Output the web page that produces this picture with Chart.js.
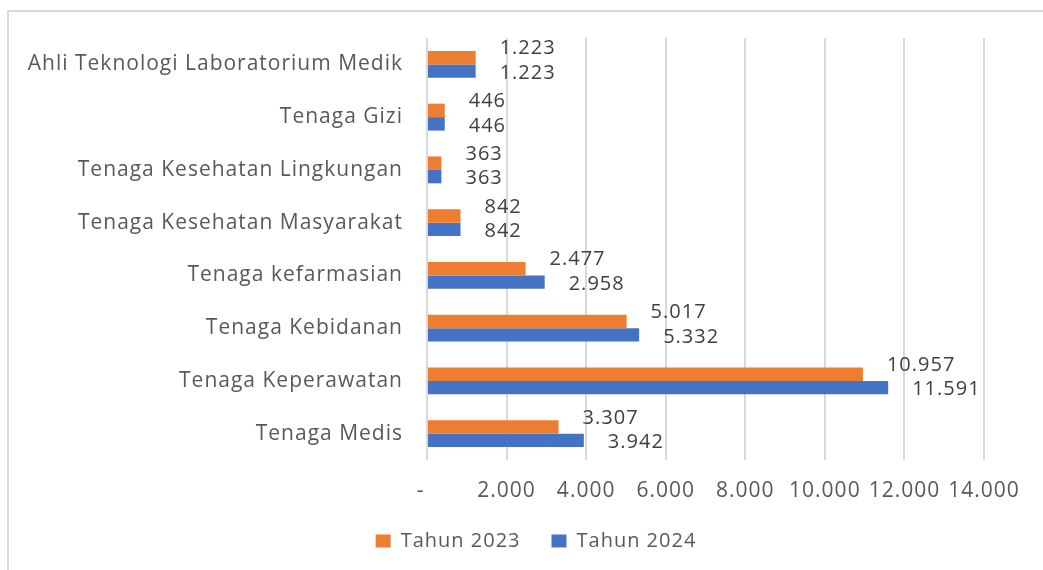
<!DOCTYPE html>
<html>
<head>
<meta charset="utf-8">
<script src="https://cdn.jsdelivr.net/npm/chart.js@4.4.0/dist/chart.umd.min.js"></script>
<style>
  html, body { margin: 0; padding: 0; background: #fff; }
  #wrap { position: relative; width: 1043px; height: 570px; }
  #frame { position: absolute; left: 7px; top: 10px; right: -5px; bottom: -5px;
           border-left: 2px solid #d9d9d9; border-top: 2px solid #d9d9d9; pointer-events: none; }
</style>
</head>
<body>
<div id="wrap">
  <canvas id="mycanvas" width="1043" height="570"></canvas>
  <div id="frame"></div>
</div>
<script>
var categories = [
  "Ahli Teknologi Laboratorium Medik",
  "Tenaga Gizi",
  "Tenaga Kesehatan Lingkungan",
  "Tenaga Kesehatan Masyarakat",
  "Tenaga kefarmasian",
  "Tenaga Kebidanan",
  "Tenaga Keperawatan",
  "Tenaga Medis"
];
var tahun2023 = [1223, 446, 363, 842, 2477, 5017, 10957, 3307];
var tahun2024 = [1223, 446, 363, 842, 2958, 5332, 11591, 3942];

var FONT = "'Open Sans'";

function fmt(v) {
  if (v === 0) return "-  ";
  return String(v).replace(/\B(?=(\d{3})+(?!\d))/g, ".");
}

// the text in the picture is spaced out a bit
var spacing = {
  id: 'spacing',
  beforeUpdate: function(chart) { chart.ctx.letterSpacing = "1px"; },
  beforeDraw: function(chart) { chart.ctx.letterSpacing = "1px"; },
  // left padding is only there to center the legend; let the long y labels use it
  afterLayout: function(chart) { chart.scales.y.left = 0; }
};

// labels next to bar ends, orange ones sit higher like in excel
var barLabels = {
  id: 'barLabels',
  afterDatasetsDraw: function(chart) {
    var ctx = chart.ctx;
    ctx.save();
    ctx.font = "20px " + FONT;
    ctx.fillStyle = "#404040";
    ctx.textAlign = "left";
    ctx.textBaseline = "middle";
    chart.data.datasets.forEach(function(ds, i) {
      var meta = chart.getDatasetMeta(i);
      var dy = i === 0 ? -9 : 2;
      meta.data.forEach(function(bar, j) {
        ctx.fillText(fmt(ds.data[j]), bar.x + 24, bar.y + dy);
      });
    });
    ctx.restore();
  }
};

var ctx = document.getElementById("mycanvas");

var chartdata = {
  labels: categories,
  datasets: [
    {
      label: "Tahun 2023",
      backgroundColor: "#ED7D31",
      data: tahun2023,
      categoryPercentage: 0.51,
      barPercentage: 1.0
    },
    {
      label: "Tahun 2024",
      backgroundColor: "#4472C4",
      data: tahun2024,
      categoryPercentage: 0.51,
      barPercentage: 1.0
    }
  ]
};

var barGraph = new Chart(ctx, {
  type: 'bar',
  data: chartdata,
  plugins: [spacing, barLabels],
  options: {
    indexAxis: 'y',
    responsive: false,
    animation: false,
    layout: { padding: { top: 38, right: 59, bottom: 9, left: 88 } },
    plugins: {
      tooltip: { enabled: false },
      legend: {
        position: 'bottom',
        labels: {
          boxWidth: 15,
          boxHeight: 13,
          padding: 31,
          color: "#595959",
          font: { family: FONT, size: 20 }
        }
      }
    },
    scales: {
      y: {
        grid: { display: false },
        border: { display: false },
        ticks: { color: "#595959", font: { family: FONT, size: 21 }, padding: 16 },
        afterFit: function(s) { s.width = 427 - 88; }
      },
      x: {
        min: 0,
        max: 14000,
        grid: { color: "#d9d9d9", lineWidth: 2, drawTicks: false },
        border: { display: false },
        ticks: {
          stepSize: 2000,
          color: "#595959",
          font: { family: FONT, size: 21 },
          padding: 18,
          maxRotation: 0,
          autoSkip: false,
          callback: function(v) { return fmt(v); }
        },
        afterFit: function(s) { s.height = 40; }
      }
    }
  }
});
</script>
</body>
</html>
